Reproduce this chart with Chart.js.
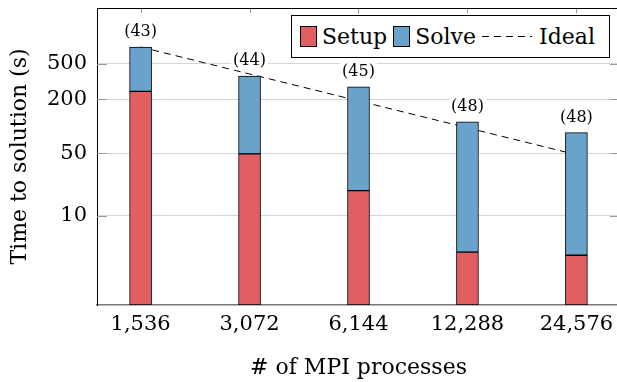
<!DOCTYPE html>
<html>
<head>
<meta charset="utf-8">
<script src="https://cdn.jsdelivr.net/npm/chart.js@4.4.1/dist/chart.umd.min.js"></script>
<style>
  html, body { margin: 0; padding: 0; overflow: hidden; background: #fff; }
  #wrap { position: relative; width: 620px; height: 382px; }
  #legend {
    position: absolute; left: 291px; top: 15px; width: 319px; height: 43px;
    box-sizing: border-box; border: 1px solid #000; background: #fff;
    display: flex; align-items: center; padding-left: 8px;
    font-family: "DejaVu Serif"; font-size: 22px; color: #000;
  }
  .item { display: flex; align-items: center; margin-right: 6px; }
  .box { width: 17px; height: 21px; box-sizing: border-box; border: 1px solid #000; margin-right: 5px; }
  .dash { width: 50px; height: 1px; margin-right: 7px;
    background: repeating-linear-gradient(to right, #000 0 7px, transparent 7px 12px); }
</style>
</head>
<body>
<div id="wrap">
  <canvas id="miGrafica" width="620" height="382"></canvas>
  <div id="legend"></div>
</div>
<script>
// datos
var procesos = ['1,536', '3,072', '6,144', '12,288', '24,576']
var setup = [245, 49, 19, 3.9, 3.6]
var solve = [524, 315, 257, 108, 81]
var ideal = [769, 384, 192, 96, 48]
var iteraciones = [43, 44, 45, 48, 48]
var yTicks = [10, 50, 200, 500]

var rojo = '#e15e63'
var azul = '#69a2cb'
var fuente = 'DejaVu Serif'

function puntos(valores) { // paso a {x, y} para el eje lineal
  return valores.map(function (v, i) { return { x: i, y: v } })
}

var marco = { // linea de arriba y marcas de los ejes
  id: 'marco',
  afterDraw: function (chart) {
    var ctx = chart.ctx
    var a = chart.chartArea
    var xs = chart.scales.x
    var ys = chart.scales.y
    ctx.save()
    ctx.strokeStyle = '#999'
    ctx.lineWidth = 1
    procesos.forEach(function (p, i) {
      var x = Math.round(xs.getPixelForValue(i)) + 0.5
      ctx.beginPath(); ctx.moveTo(x, a.top); ctx.lineTo(x, a.top + 5); ctx.stroke()
    })
    yTicks.forEach(function (v) {
      var y = Math.round(ys.getPixelForValue(v)) + 0.5
      ctx.beginPath(); ctx.moveTo(a.left, y); ctx.lineTo(a.left + 10, y); ctx.stroke()
      ctx.beginPath(); ctx.moveTo(a.right - 10, y); ctx.lineTo(a.right, y); ctx.stroke()
    })
    ctx.strokeStyle = '#000'
    ctx.beginPath(); ctx.moveTo(a.left, a.top + 0.5); ctx.lineTo(a.right, a.top + 0.5); ctx.stroke()
    ctx.restore()
  }
}

var etiquetas = { // numero de iteraciones encima de cada barra
  id: 'etiquetas',
  afterDatasetsDraw: function (chart) {
    var ctx = chart.ctx
    var meta = chart.getDatasetMeta(1)
    ctx.save()
    ctx.font = '16px "' + fuente + '"'
    ctx.textAlign = 'center'
    ctx.textBaseline = 'middle'
    meta.data.forEach(function (bar, i) {
      var texto = '(' + iteraciones[i] + ')'
      var w = ctx.measureText(texto).width
      var y = bar.y - 15
      ctx.fillStyle = '#fff'
      ctx.fillRect(bar.x - w / 2 - 2, y - 9, w + 4, 18)
      ctx.fillStyle = '#000'
      ctx.fillText(texto, bar.x, y)
    })
    ctx.restore()
  }
}

var grafica = new Chart('miGrafica', {
  type: 'bar',
  data: {
    datasets: [{
      label: 'Setup',
      data: puntos(setup),
      backgroundColor: rojo,
      borderColor: '#000',
      borderWidth: 1,
      borderSkipped: false,
      barThickness: 22,
      stack: 'tiempo',
      order: 1
    }, {
      label: 'Solve',
      data: puntos(solve),
      backgroundColor: azul,
      borderColor: '#000',
      borderWidth: 1,
      borderSkipped: false,
      barThickness: 22,
      stack: 'tiempo',
      order: 1
    }, {
      type: 'line',
      label: 'Ideal',
      data: puntos(ideal),
      borderColor: '#000',
      borderWidth: 1,
      borderDash: [7, 5],
      pointRadius: 0,
      fill: false,
      stack: 'ideal',
      order: 2
    }]
  },
  options: {
    responsive: false,
    animation: false,
    devicePixelRatio: 1,
    layout: { padding: { top: 8, left: 0, right: 0, bottom: 0 } },
    plugins: { legend: { display: false }, tooltip: { enabled: false } },
    scales: {
      x: {
        type: 'linear',
        offset: false,
        min: -0.4,
        max: 4.4,
        afterBuildTicks: function (s) { s.ticks = procesos.map(function (p, i) { return { value: i } }) },
        afterFit: function (s) { s.height = 77; s.paddingLeft = 0; s.paddingRight = 0 },
        grid: { display: false, drawTicks: false },
        border: { color: '#777', width: 1.5 },
        ticks: {
          padding: 7,
          color: '#000',
          font: { family: fuente, size: 21 },
          callback: function (v) { return procesos[v] }
        },
        title: {
          display: true,
          text: '# of MPI processes',
          color: '#000',
          font: { family: fuente, size: 22 },
          padding: { top: 0, bottom: 1 }
        }
      },
      y: {
        type: 'logarithmic',
        min: 1,
        max: 2100,
        stacked: true,
        afterBuildTicks: function (s) { s.ticks = yTicks.map(function (v) { return { value: v } }) },
        afterFit: function (s) { s.width = 97; s.paddingTop = 0; s.paddingBottom = 0 },
        grid: { color: '#d6d6d6', drawTicks: false },
        border: { color: '#000', width: 1 },
        ticks: {
          padding: 10,
          color: '#000',
          font: { family: fuente, size: 21 },
          callback: function (v) { return String(v) }
        },
        title: {
          display: true,
          text: 'Time to solution (s)',
          color: '#000',
          font: { family: fuente, size: 22 },
          padding: { top: 7, bottom: 0 }
        }
      }
    }
  },
  plugins: [marco, etiquetas]
})

// leyenda en html con borde, como la original
var leyenda = document.getElementById('legend')
grafica.data.datasets.forEach(function (ds) {
  var item = document.createElement('div')
  item.className = 'item'
  var marca = document.createElement('div')
  if (ds.type === 'line') {
    marca.className = 'dash'
  } else {
    marca.className = 'box'
    marca.style.background = ds.backgroundColor
  }
  var texto = document.createElement('span')
  texto.textContent = ds.label
  item.appendChild(marca)
  item.appendChild(texto)
  leyenda.appendChild(item)
})
</script>
</body>
</html>
